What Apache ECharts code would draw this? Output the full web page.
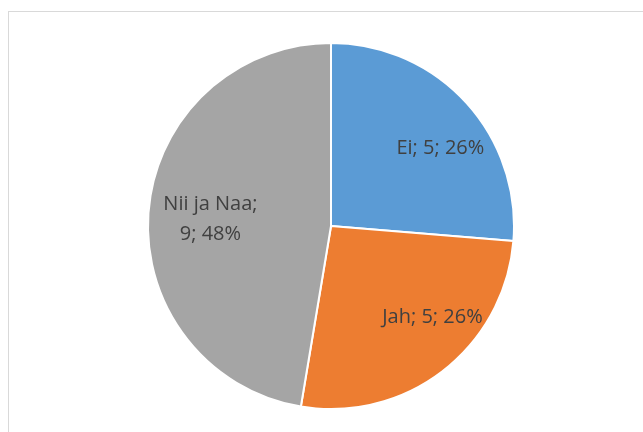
<!DOCTYPE html>
<html>
<head>
<meta charset="utf-8">
<script src="https://cdn.jsdelivr.net/npm/echarts@6/dist/echarts.min.js"></script>
<style>
  html, body { margin: 0; padding: 0; background: #fff; }
  #wrap { position: relative; width: 643px; height: 432px; overflow: hidden; }
  #frame { position: absolute; left: 8px; top: 11px; width: 700px; height: 500px; border: 1px solid #d9d9d9; box-sizing: border-box; }
  #chart { position: absolute; left: 0; top: 0; width: 643px; height: 432px; }
</style>
</head>
<body>
<div id="wrap">
  <div id="frame"></div>
  <div id="chart"></div>
</div>
<script>
// answers and counts
const categories = ['Ei', 'Jah', 'Nii ja Naa'];
const counts = [5, 5, 9];
const colors = ['#5b9bd5', '#ed7d31', '#a5a5a5'];
// small nudges so the labels sit where Excel put them
const labelOffsets = [[13, 11], [21, -12], [10, 4]];

const pieData = categories.map((name, i) => ({ name, value: counts[i], itemStyle: { color: colors[i] } }));
const labelText = {
    'Ei': p => p.name + '; ' + p.value + '; ' + p.percent + '%',
    'Jah': p => p.name + '; ' + p.value + '; ' + p.percent + '%',
    'Nii ja Naa': p => p.name + ';\n' + p.value + '; ' + p.percent + '%'
};

const myChart = echarts.init(document.getElementById('chart'));
myChart.setOption({
    animation: false,
    series: [
        {
            type: 'pie',
            center: [331, 226],
            radius: 183,
            startAngle: 90,
            percentPrecision: 0,
            itemStyle: { borderColor: '#fff', borderWidth: 2 },
            label: { show: false },
            labelLine: { show: false },
            silent: true,
            data: pieData
        },
        {
            // transparent ring only used to place the labels
            type: 'pie',
            center: [331, 226],
            radius: [73, 183],
            startAngle: 90,
            percentPrecision: 0,
            silent: true,
            itemStyle: { color: 'transparent', borderWidth: 0 },
            label: {
                show: true,
                position: 'inside',
                color: '#404040',
                fontSize: 20,
                fontFamily: 'Open Sans',
                lineHeight: 30,
                formatter: p => labelText[p.name](p)
            },
            labelLine: { show: false },
            data: categories.map((name, i) => ({
                name,
                value: counts[i],
                label: { offset: labelOffsets[i] }
            }))
        }
    ]
});
</script>
</body>
</html>
